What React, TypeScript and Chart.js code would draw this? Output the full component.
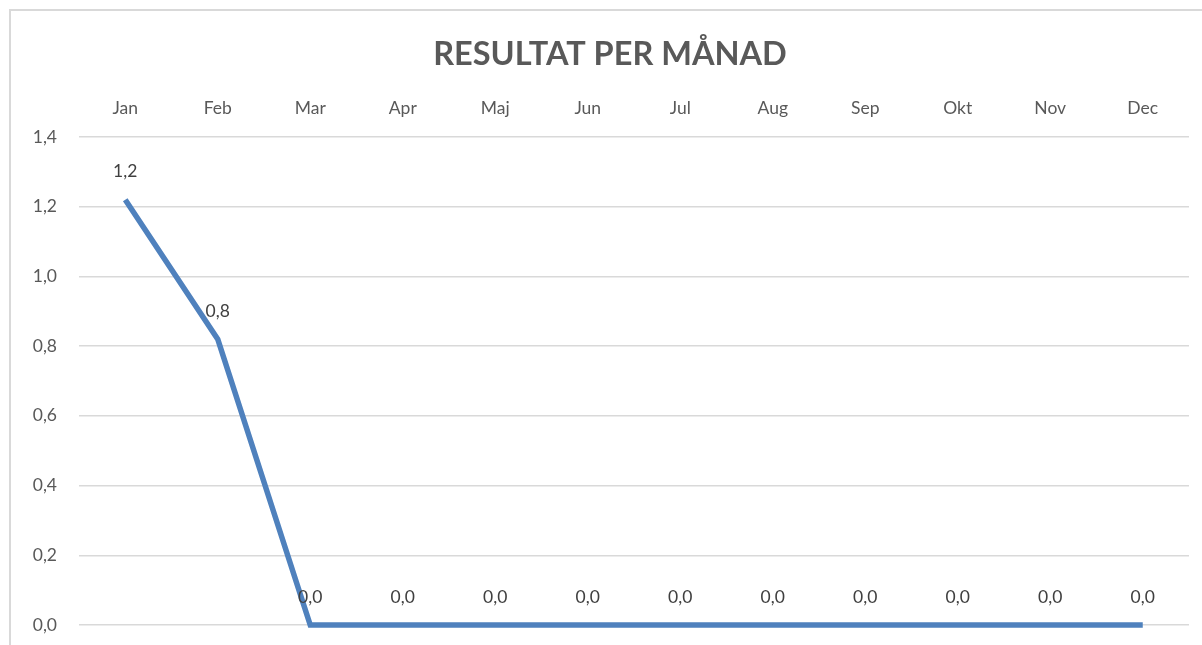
import React, { useEffect, useRef } from "react";
import { Chart, registerables } from "chart.js";

Chart.register(...registerables);

const months = ["Jan", "Feb", "Mar", "Apr", "Maj", "Jun", "Jul", "Aug", "Sep", "Okt", "Nov", "Dec"];
const results = [1.22, 0.82, 0, 0, 0, 0, 0, 0, 0, 0, 0, 0];
const yTicks = [0, 0.2, 0.4, 0.6, 0.8, 1.0, 1.2, 1.4];
const titleText = "RESULTAT PER MÅNAD";

const FONT = "Lato, 'Liberation Sans', sans-serif";
const fmt = (v: number) => v.toFixed(1).replace(".", ",");

const dataLabelPlugin = {
  id: "dataLabels",
  afterDatasetsDraw(chart: any) {
    const ctx = chart.ctx;
    const meta = chart.getDatasetMeta(0);
    ctx.save();
    ctx.font = `17.5px ${FONT}`;
    ctx.fillStyle = "#404040";
    ctx.textAlign = "center";
    ctx.textBaseline = "middle";
    meta.data.forEach((pt: any, i: number) => {
      ctx.fillText(fmt(results[i]), pt.x, pt.y - 28);
    });
    ctx.restore();
  },
};

const titlePlugin = {
  id: "customTitle",
  afterDraw(chart: any) {
    const ctx = chart.ctx;
    ctx.save();
    ctx.font = `bold 32.5px ${FONT}`;
    ctx.fillStyle = "#595959";
    ctx.textAlign = "center";
    ctx.textBaseline = "middle";
    ctx.fillText(titleText, 610, 55);
    ctx.restore();
  },
};

export default function App() {
  const ref = useRef<HTMLCanvasElement>(null);
  useEffect(() => {
    document.body.style.margin = "0";
    const chart = new Chart(ref.current!, {
      type: "line",
      data: {
        labels: months,
        datasets: [
          {
            data: results,
            borderColor: "#4F81BD",
            borderWidth: 5.5,
            pointRadius: 0,
            tension: 0,
            clip: false as any,
          },
        ],
      },
      options: {
        animation: false,
        responsive: false,
        maintainAspectRatio: false,
        layout: { padding: { top: 90, right: 13, bottom: 20, left: 0 } },
        plugins: { legend: { display: false }, tooltip: { enabled: false }, title: { display: false } },
        scales: {
          x: {
            position: "top",
            offset: true,
            grid: { display: false, drawTicks: false },
            border: { display: false },
            ticks: { font: { family: FONT, size: 17.5 }, color: "#595959", padding: 18, maxRotation: 0 },
            afterFit(s: any) {
              s.height = 47;
            },
          },
          y: {
            min: 0,
            max: 1.4,
            afterBuildTicks(s: any) {
              s.ticks = yTicks.map((v) => ({ value: v }));
            },
            grid: { color: "#d9d9d9", lineWidth: 1.5, drawTicks: false },
            border: { display: false },
            ticks: {
              font: { family: FONT, size: 17.5 },
              color: "#595959",
              padding: 22,
              callback: (v: any) => fmt(Number(v)),
            },
            afterFit(s: any) {
              s.width = 79;
              s.paddingTop = 0;
              s.paddingBottom = 0;
            },
          },
        },
      },
      plugins: [dataLabelPlugin, titlePlugin],
    });
    return () => chart.destroy();
  }, []);
  return (
    <div style={{ position: "relative", width: 1202, height: 645, overflow: "hidden", background: "#fff" }}>
      <div
        style={{
          position: "absolute",
          left: 9,
          top: 9,
          width: 1240,
          height: 700,
          border: "2px solid #d9d9d9",
        }}
      />
      <canvas ref={ref} width={1202} height={645} style={{ position: "absolute", left: 0, top: 0 }} />
    </div>
  );
}
